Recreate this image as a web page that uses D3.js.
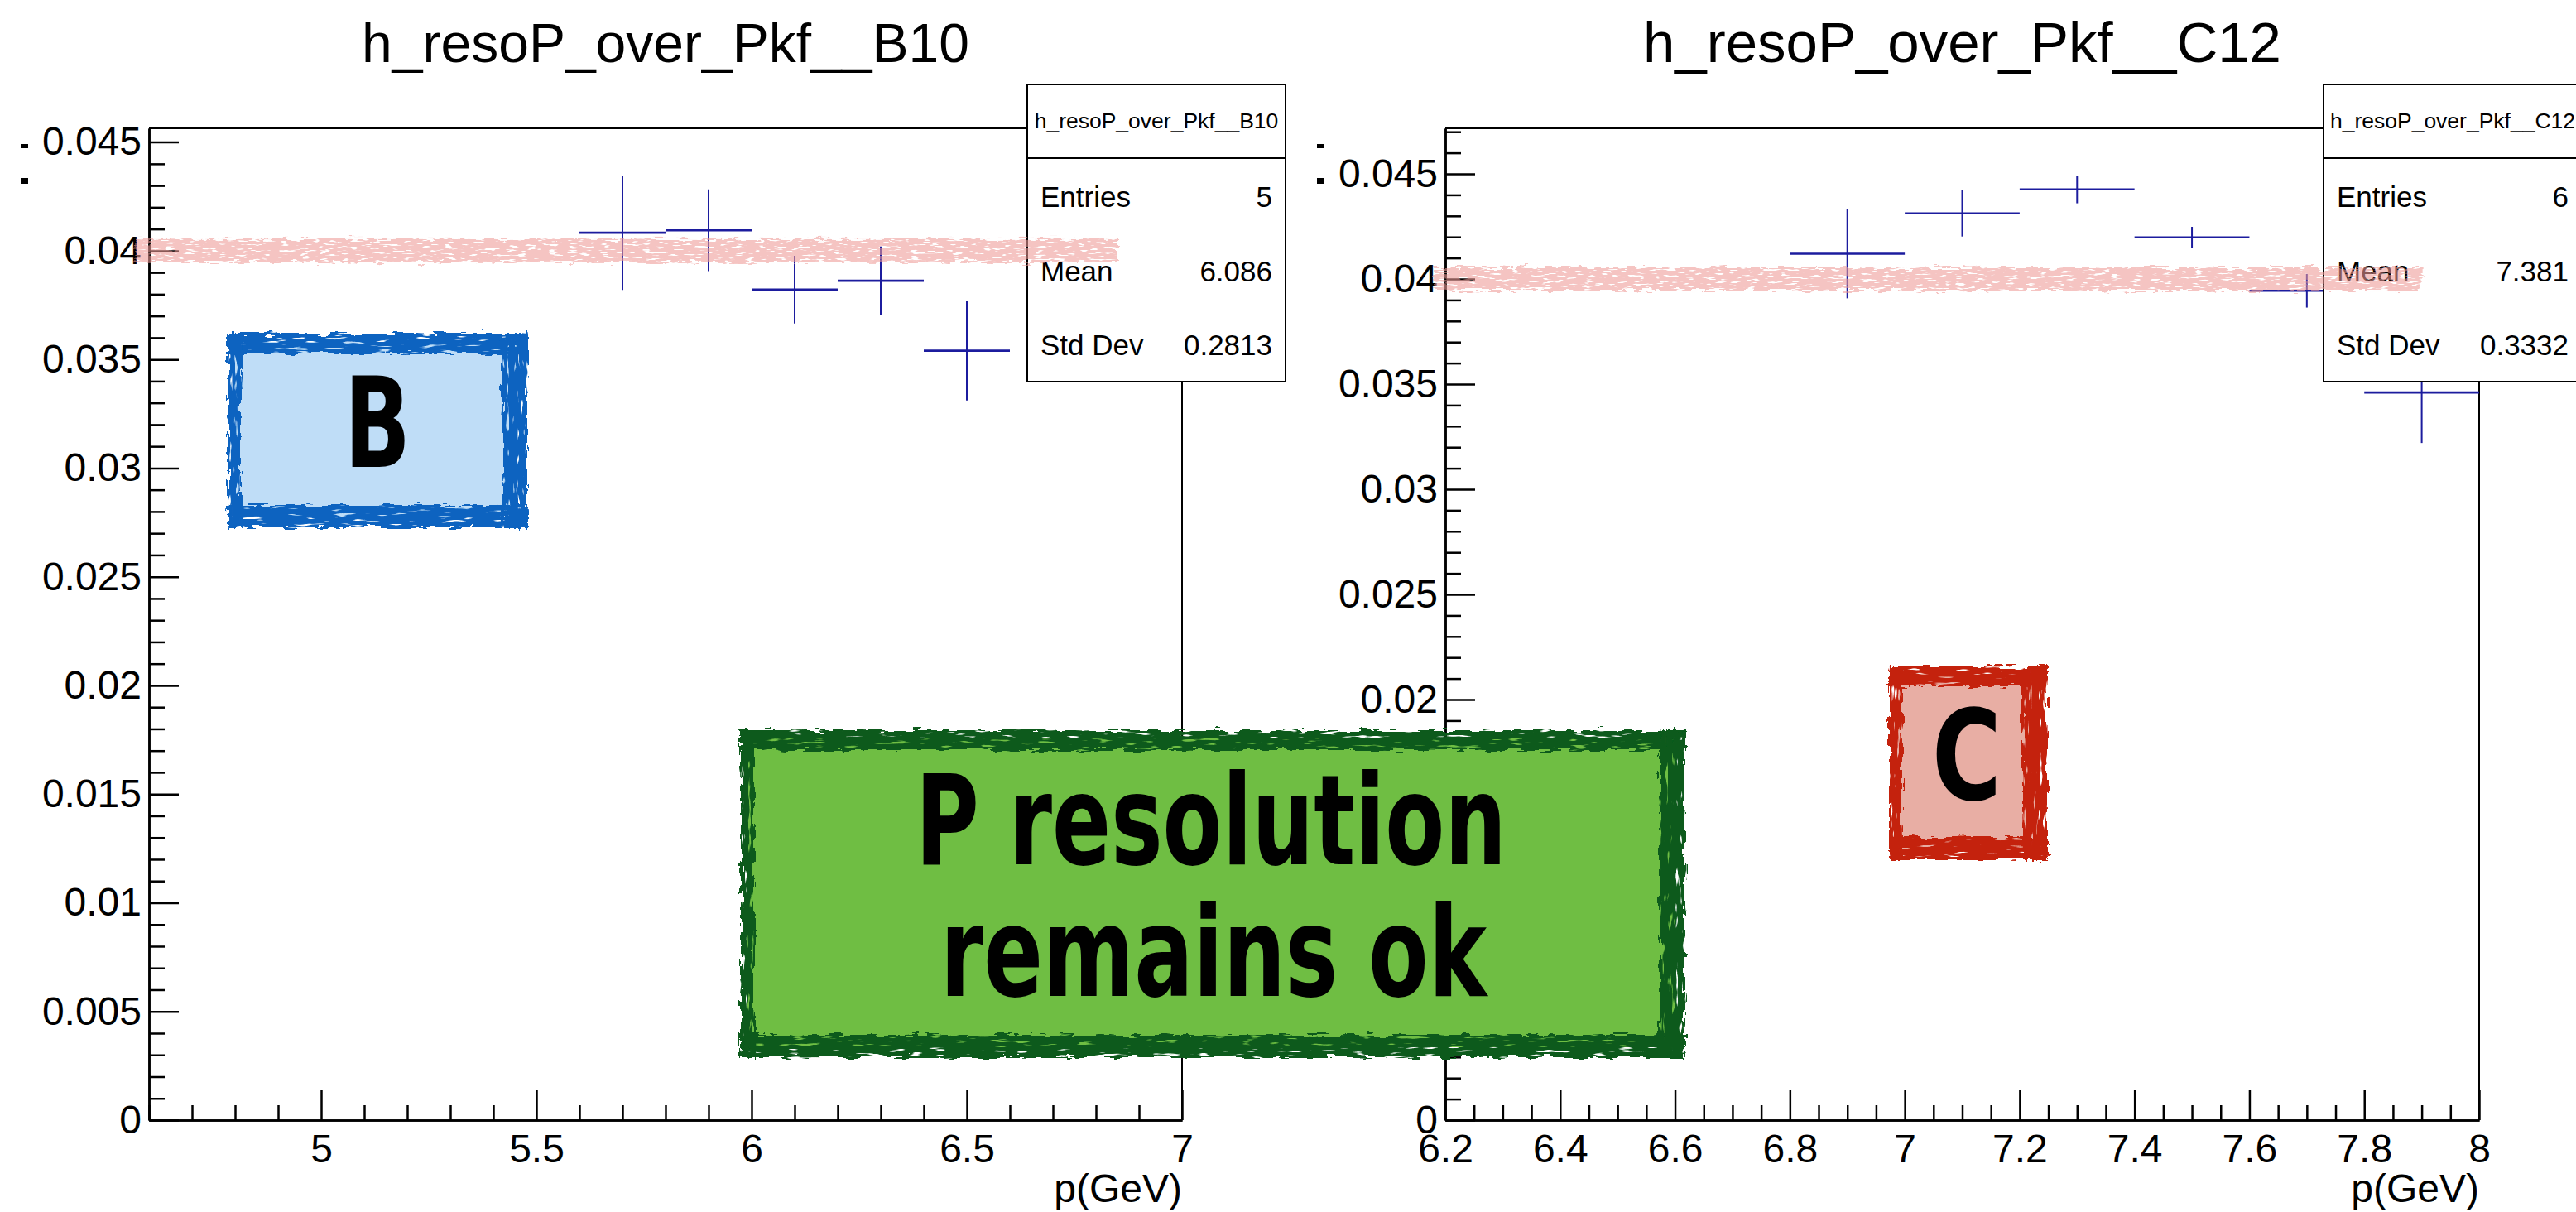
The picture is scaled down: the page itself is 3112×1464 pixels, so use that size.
<!DOCTYPE html>
<html>
<head>
<meta charset="utf-8">
<script src="https://cdn.jsdelivr.net/npm/d3@7"></script>
<style>
  body { margin: 0; background: #fff; }
  text { font-family: "Liberation Sans", Arial, Helvetica, sans-serif; fill: #000; }
  .axis text { font-size: 48px; }
  .axis path, .axis line { stroke: #000; stroke-width: 2.5; }
  .note { font-family: "DejaVu Sans Condensed", "DejaVu Sans", sans-serif; font-weight: bold; }
</style>
</head>
<body>
<div class="chart"></div>
<script>
// B10 histogram : bin centres, contents, errors
const binsB10 = [5.7, 5.9, 6.1, 6.3, 6.5];
const valsB10 = [0.04083, 0.04094, 0.03821, 0.03862, 0.03540];
const errsB10 = [0.00263, 0.00188, 0.00156, 0.00158, 0.00229];

// C12 histogram
const binsC12 = [6.9, 7.1, 7.3, 7.5, 7.7, 7.9];
const valsC12 = [0.04120, 0.04312, 0.04426, 0.04198, 0.03944, 0.03460];
const errsC12 = [0.00212, 0.00110, 0.00066, 0.00050, 0.00080, 0.00240];
const binWidth = 0.2;

// stat boxes
const statNames = ["Entries", "Mean", "Std Dev"];
const statsB10 = ["5", "6.086", "0.2813"];
const statsC12 = ["6", "7.381", "0.3332"];

// ticks
const xTicksB10 = [5, 5.5, 6, 6.5, 7];
const xTicksC12 = [6.2, 6.4, 6.6, 6.8, 7, 7.2, 7.4, 7.6, 7.8, 8];
const yTicks = [0, 0.005, 0.01, 0.015, 0.02, 0.025, 0.03, 0.035, 0.04, 0.045];
const refValue = 0.04; // hand drawn reference line

const W = 3112, H = 1464;
const plotTop = 155, plotBottom = 1353;

const panels = [
  { name: "h_resoP_over_Pkf__B10", bins: binsB10, vals: valsB10, errs: errsB10, stats: statsB10,
    xDomain: [4.6, 7], xTicks: xTicksB10, xMinor: 0.1, left: 180, right: 1428,
    titleSize: 66, box: [1241, 1553], ref: [4.57, 6.85] },
  { name: "h_resoP_over_Pkf__C12", bins: binsC12, vals: valsC12, errs: errsC12, stats: statsC12,
    xDomain: [6.2, 8], xTicks: xTicksC12, xMinor: 0.05, left: 1746, right: 2995,
    titleSize: 69, box: [2807, 3119], ref: [6.18, 7.9] }
];

// annotation boxes (drawn on top of everything)
const notes = [
  { x0: 275, y0: 403, x1: 637, y1: 637, border: '#0764c0', fill: '#bfddf7',
    lines: [{ t: 'B', cx: 456, y: 564, len: 80 }] },
  { x0: 895, y0: 882, x1: 2035, y1: 1277, border: '#0e5a1a', fill: '#6fbe43',
    lines: [{ t: 'P resolution', cx: 1463, y: 1044, len: 714 }, { t: 'remains ok', cx: 1466, y: 1203, len: 660 }] },
  { x0: 2282, y0: 805, x1: 2473, y1: 1038, border: '#c42308', fill: '#e8aea4',
    lines: [{ t: 'C', cx: 2376, y: 966, len: 84 }] }
];
const bw = { top: 24, right: 30, bottom: 27, left: 16 };

const svg = d3.select('.chart').append('svg')
  .attr('width', W).attr('height', H)
  .attr('viewBox', [0, 0, W, H]);

// brush-like filters
const defs = svg.append('defs');
function roughFilter(id, dispFreq, holeFreq, scale, cut) {
  const f = defs.append('filter').attr('id', id)
    .attr('filterUnits', 'userSpaceOnUse')
    .attr('x', 0).attr('y', 0).attr('width', W).attr('height', H);
  f.append('feTurbulence').attr('type', 'fractalNoise').attr('baseFrequency', dispFreq)
    .attr('numOctaves', 3).attr('seed', 4).attr('result', 'n');
  f.append('feDisplacementMap').attr('in', 'SourceGraphic').attr('in2', 'n')
    .attr('scale', scale).attr('xChannelSelector', 'R').attr('yChannelSelector', 'G').attr('result', 'd');
  f.append('feTurbulence').attr('type', 'fractalNoise').attr('baseFrequency', holeFreq)
    .attr('numOctaves', 2).attr('seed', 11).attr('result', 'h');
  f.append('feColorMatrix').attr('in', 'h').attr('type', 'matrix')
    .attr('values', `0 0 0 0 0  0 0 0 0 0  0 0 0 0 0  10 0 0 0 ${-cut}`).attr('result', 'a');
  f.append('feComposite').attr('in', 'd').attr('in2', 'a').attr('operator', 'in');
}
roughFilter('roughH', '0.05 0.2', '0.04 0.25', 14, 2.6);
roughFilter('roughV', '0.2 0.05', '0.25 0.04', 14, 2.6);
roughFilter('roughPink', '0.06 0.25', '0.08 0.4', 14, 3.1);

const fmtY = d => d === 0 ? "0" : String(+d.toFixed(3));
const fmtX = d => String(+d.toFixed(1));

// true when a tick label sits fully under an annotation box
const hidden = (x, y) => notes.some(n => x > n.x0 && x < n.x1 && y - 20 > n.y0 && y + 20 < n.y1);

const pinkLayer = [];

panels.forEach(p => {
  const x = d3.scaleLinear().domain(p.xDomain).range([p.left, p.right]);
  const yMax = d3.max(p.vals, (v, i) => v + p.errs[i]) * 1.05;
  const y = d3.scaleLinear().domain([0, yMax]).range([plotBottom, plotTop]);
  const g = svg.append('g');

  // frame
  g.append('path')
    .attr('d', `M${p.left},${plotTop}H${p.right}V${plotBottom}`)
    .attr('fill', 'none').attr('stroke', '#000').attr('stroke-width', 2);

  // y axis
  const yMinor = d3.range(0, Math.floor(yMax * 1000) + 1).filter(i => i % 5 !== 0).map(i => i / 1000);
  g.append('g').attr('class', 'axis').attr('transform', `translate(${p.left},0)`)
    .call(d3.axisLeft(y).tickValues(yMinor).tickSize(-19).tickSizeOuter(0).tickFormat(''));
  const yAx = g.append('g').attr('class', 'axis').attr('transform', `translate(${p.left},0)`)
    .call(d3.axisLeft(y).tickValues(yTicks).tickSize(-36).tickSizeOuter(0).tickPadding(9).tickFormat(fmtY));
  yAx.selectAll('.tick text').filter(d => hidden(p.left - 60, y(d))).remove();

  // x axis
  const n = Math.round((p.xDomain[1] - p.xDomain[0]) / p.xMinor);
  const xMinor = d3.range(n + 1).map(i => +(p.xDomain[0] + i * p.xMinor).toFixed(3))
    .filter(v => !p.xTicks.some(t => Math.abs(t - v) < 1e-6));
  g.append('g').attr('class', 'axis').attr('transform', `translate(0,${plotBottom})`)
    .call(d3.axisBottom(x).tickValues(xMinor).tickSize(-18).tickSizeOuter(0).tickFormat(''));
  g.append('g').attr('class', 'axis').attr('transform', `translate(0,${plotBottom})`)
    .call(d3.axisBottom(x).tickValues(p.xTicks).tickSize(-36).tickSizeOuter(0).tickPadding(17).tickFormat(fmtX));

  g.append('text')
    .attr('x', p.right).attr('y', 1452)
    .attr('text-anchor', 'end').style('font-size', '48px')
    .text('p(GeV)');

  // title
  g.append('text')
    .attr('x', (p.left + p.right) / 2).attr('y', 75)
    .attr('text-anchor', 'middle').style('font-size', p.titleSize + 'px')
    .text(p.name);

  // error bars
  const pts = p.bins.map((b, i) => ({ x: b, v: p.vals[i], e: p.errs[i] }));
  g.selectAll('.hbar').data(pts).join('line')
    .attr('class', 'hbar')
    .attr('x1', d => x(d.x - binWidth / 2)).attr('x2', d => x(d.x + binWidth / 2))
    .attr('y1', d => y(d.v)).attr('y2', d => y(d.v))
    .attr('stroke', '#1c1c9e').attr('stroke-width', 2.6);
  g.selectAll('.vbar').data(pts).join('line')
    .attr('class', 'vbar')
    .attr('x1', d => x(d.x)).attr('x2', d => x(d.x))
    .attr('y1', d => y(d.v - d.e)).attr('y2', d => y(d.v + d.e))
    .attr('stroke', '#1c1c9e').attr('stroke-width', 2);

  // stat box
  const [b0, b1] = p.box;
  const sb = g.append('g');
  sb.append('rect')
    .attr('x', b0).attr('y', 102).attr('width', b1 - b0).attr('height', 359)
    .attr('fill', '#fff').attr('stroke', '#000').attr('stroke-width', 2);
  sb.append('line')
    .attr('x1', b0).attr('x2', b1).attr('y1', 191).attr('y2', 191)
    .attr('stroke', '#000').attr('stroke-width', 2);
  sb.append('text')
    .attr('x', (b0 + b1) / 2).attr('y', 155)
    .attr('text-anchor', 'middle').style('font-size', '26.5px')
    .text(p.name);
  const rowsY = [250, 340, 429];
  sb.selectAll('.sname').data(statNames).join('text')
    .attr('x', b0 + 16).attr('y', (d, i) => rowsY[i])
    .style('font-size', '35px').text(d => d);
  sb.selectAll('.sval').data(p.stats).join('text')
    .attr('x', b1 - 16).attr('y', (d, i) => rowsY[i])
    .attr('text-anchor', 'end').style('font-size', '35px').text(d => d);

  pinkLayer.push({ x0: x(p.ref[0]), x1: x(p.ref[1]), y: y(refValue) });
});

// small leftover marks near the top left of each pad
[[25, 174, 5], [25, 215, 7], [1591, 174, 5], [1591, 215, 7]].forEach(m => {
  svg.append('rect').attr('x', m[0]).attr('y', m[1]).attr('width', 9).attr('height', m[2]).attr('fill', '#000');
});

// pink hand drawn lines at the reference value
svg.append('g').attr('filter', 'url(#roughPink)').style('opacity', 0.58)
  .selectAll('rect').data(pinkLayer).join('rect')
  .attr('x', d => d.x0).attr('width', d => d.x1 - d.x0)
  .attr('y', d => d.y - 14).attr('height', 28)
  .attr('fill', '#ee9a97');

const ann = svg.append('g');
ann.selectAll('.nfill').data(notes).join('rect')
  .attr('x', d => d.x0 + 8).attr('y', d => d.y0 + 10)
  .attr('width', d => d.x1 - d.x0 - 20).attr('height', d => d.y1 - d.y0 - 22)
  .attr('fill', d => d.fill);

const hStrips = ann.append('g').attr('filter', 'url(#roughH)');
notes.forEach(d => {
  hStrips.append('rect').attr('x', d.x0).attr('y', d.y0).attr('width', d.x1 - d.x0).attr('height', bw.top).attr('fill', d.border);
  hStrips.append('rect').attr('x', d.x0).attr('y', d.y1 - bw.bottom).attr('width', d.x1 - d.x0).attr('height', bw.bottom).attr('fill', d.border);
});
const vStrips = ann.append('g').attr('filter', 'url(#roughV)');
notes.forEach(d => {
  vStrips.append('rect').attr('x', d.x0).attr('y', d.y0).attr('width', bw.left).attr('height', d.y1 - d.y0).attr('fill', d.border);
  vStrips.append('rect').attr('x', d.x1 - bw.right).attr('y', d.y0).attr('width', bw.right).attr('height', d.y1 - d.y0).attr('fill', d.border);
});

notes.forEach(d => {
  d.lines.forEach(l => {
    ann.append('text').attr('class', 'note')
      .attr('x', l.cx - l.len / 2).attr('y', l.y)
      .attr('textLength', l.len).attr('lengthAdjust', 'spacingAndGlyphs')
      .style('font-size', '152px')
      .text(l.t);
  });
});
</script>
</body>
</html>
